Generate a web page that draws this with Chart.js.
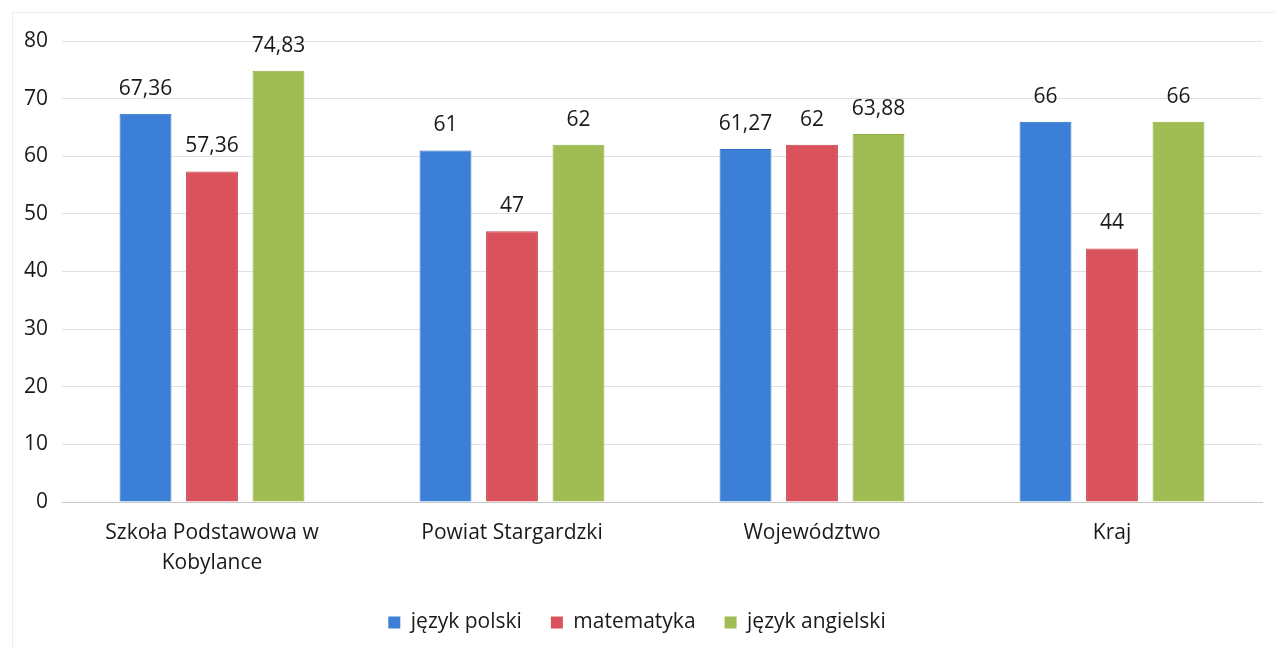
<!DOCTYPE html>
<html><head><meta charset="utf-8">
<script src="https://cdn.jsdelivr.net/npm/chart.js@4/dist/chart.umd.min.js"></script>
<style>html,body{margin:0;padding:0;background:#fff}#wrap{width:1275px;height:648px}</style>
</head><body><div id="wrap"><canvas id="c" width="1275" height="648"></canvas></div>
<script>
const categories = [["Szkoła Podstawowa w","Kobylance"],"Powiat Stargardzki","Województwo","Kraj"];
const polski = [67.36, 61, 61.27, 66];
const matematyka = [57.36, 47, 62, 44];
const angielski = [74.83, 62, 63.88, 66];
const seriesNames = ["język polski","matematyka","język angielski"];
const yTicks = [0,10,20,30,40,50,60,70,80];

const FONT = "'Open Sans', 'Liberation Sans', sans-serif";
const FS = 21;
const fmt = v => String(v).replace('.', ',');

const labelPlugin = {
  id: 'vals',
  afterDatasetsDraw(chart) {
    const ctx = chart.ctx;
    ctx.save();
    ctx.font = FS + "px " + FONT;
    ctx.fillStyle = '#1a1a1a';
    ctx.textAlign = 'center';
    ctx.textBaseline = 'middle';
    chart.data.datasets.forEach((ds, i) => {
      chart.getDatasetMeta(i).data.forEach((bar, j) => {
        ctx.fillText(fmt(ds.data[j]), bar.x, bar.y - 25);
      });
    });
    ctx.restore();
  }
};
const framePlugin = {
  id: 'frame',
  beforeDraw(chart) {
    const ctx = chart.ctx;
    ctx.save();
    ctx.fillStyle = '#fff';
    ctx.fillRect(0, 0, chart.width, chart.height);
    ctx.strokeStyle = '#ececec';
    ctx.lineWidth = 1;
    ctx.strokeRect(12.5, 12.5, 1280, 700);
    ctx.restore();
  }
};

new Chart(document.getElementById('c'), {
  type: 'bar',
  data: {
    labels: categories,
    datasets: [
      {label: seriesNames[0], data: polski, backgroundColor: '#3b7fd6', borderColor: '#2f6fc4', borderWidth: 1},
      {label: seriesNames[1], data: matematyka, backgroundColor: '#d9525c', borderColor: '#c4434d', borderWidth: 1},
      {label: seriesNames[2], data: angielski, backgroundColor: '#9fbd52', borderColor: '#8fae45', borderWidth: 1}
    ]
  },
  options: {
    responsive: false,
    animation: false,
    devicePixelRatio: 1,
    layout: {padding: {left: 12, right: 13, top: 41, bottom: 9}},
    datasets: {bar: {categoryPercentage: 0.665, barPercentage: 0.78}},
    plugins: {
      legend: {
        position: 'bottom',
        maxHeight: 56,
        labels: {
          font: {size: FS, family: FONT},
          color: '#1a1a1a',
          boxWidth: 12, boxHeight: 12,
          padding: 29,
          generateLabels(chart) {
            return chart.data.datasets.map((ds, i) => ({
              text: ds.label, fillStyle: ds.backgroundColor, strokeStyle: ds.backgroundColor,
              lineWidth: 0, datasetIndex: i, fontColor: '#1a1a1a'
            }));
          }
        }
      },
      tooltip: {enabled: false}
    },
    scales: {
      x: {
        afterFit(s) { s.height = 648 - 9 - 56 - 502; },
        grid: {display: false, drawTicks: false},
        border: {display: true, color: '#c8c8c8'},
        ticks: {font: {size: FS, family: FONT, lineHeight: 1.43}, color: '#1a1a1a', padding: 16, maxRotation: 0, autoSkip: false}
      },
      y: {
        min: 0, max: 80,
        afterBuildTicks(s) { s.ticks = yTicks.map(v => ({value: v})); },
        afterFit(s) { s.width = 50; },
        grid: {color: '#e0e0e0', drawTicks: false},
        border: {display: false},
        ticks: {font: {size: FS, family: FONT}, color: '#1a1a1a', padding: 14}
      }
    }
  },
  plugins: [framePlugin, labelPlugin]
});
</script>
</body></html>
